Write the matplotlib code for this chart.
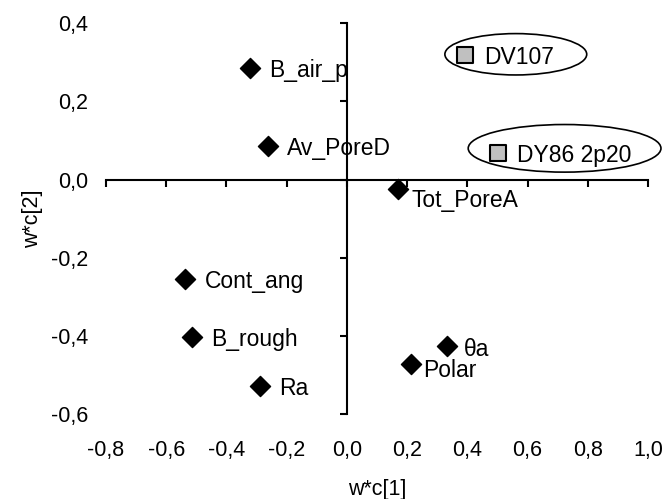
import matplotlib
matplotlib.use("Agg")
import matplotlib.pyplot as plt
from matplotlib.patches import Ellipse
from matplotlib.ticker import FuncFormatter, MultipleLocator

plt.rcParams['font.family'] = ['Liberation Sans', 'DejaVu Sans']

# variable loadings (diamonds)
var_names = ["B_air_p", "Av_PoreD", "Tot_PoreA", "Cont_ang", "B_rough", "Ra", "θa", "Polar"]
var_x = [-0.322, -0.263, 0.170, -0.536, -0.515, -0.289, 0.332, 0.212]
var_y = [0.285, 0.085, -0.024, -0.255, -0.404, -0.528, -0.426, -0.473]

# samples (grey squares)
obs_names = ["DV107", "DY86 2p20"]
obs_x = [0.392, 0.503]
obs_y = [0.319, 0.068]

# label offsets in points
var_offsets = [(14, 0), (14, 0), (9.5, -6.5), (14, 0), (14, 0), (14, 0), (12.5, -1), (9, -2.5)]
obs_offsets = [(13.5, 0), (13.5, 0)]

# ellipses round the samples: centre, width, height
ell_cx = [0.561, 0.723]
ell_cy = [0.321, 0.080]
ell_w = [0.471, 0.640]
ell_h = [0.106, 0.122]


def comma(v, pos):
    return f"{v:.1f}".replace(".", ",")


fig = plt.figure(figsize=(6.66, 4.99), dpi=100)
rect = [0.159, 0.171, 0.814, 0.782]

# frame axes: only carries the tick labels at the edges
ax = fig.add_axes(rect)
ax.set_xlim(-0.8, 1.0)
ax.set_ylim(-0.6, 0.4)
for s in ax.spines.values():
    s.set_visible(False)
ax.xaxis.set_major_locator(MultipleLocator(0.2))
ax.yaxis.set_major_locator(MultipleLocator(0.2))
ax.xaxis.set_major_formatter(FuncFormatter(comma))
ax.yaxis.set_major_formatter(FuncFormatter(comma))
ax.tick_params(length=0, labelsize=15.5)
ax.tick_params(axis="x", pad=19)
ax.tick_params(axis="y", pad=12.5)
ax.set_xlabel("w*c[1]", fontsize=15.5, labelpad=13)
ax.set_ylabel("w*c[2]", fontsize=15.5, labelpad=6)

# axes crossing at zero
ax2 = fig.add_axes(rect, sharex=ax, sharey=ax)
ax2.patch.set_visible(False)
ax2.spines["top"].set_visible(False)
ax2.spines["right"].set_visible(False)
ax2.spines["left"].set_position(("data", 0))
ax2.spines["bottom"].set_position(("data", 0))
ax2.spines["left"].set_linewidth(1.5)
ax2.spines["bottom"].set_linewidth(1.5)
ax2.tick_params(direction="out", length=5, width=1.5, labelleft=False, labelbottom=False)

ax2.scatter(var_x, var_y, marker="D", s=105, color="black", zorder=3)
ax2.scatter(obs_x, obs_y, marker="s", s=130, facecolor="#c0c0c0", edgecolor="black",
            linewidth=1.5, zorder=3)

for name, x, y, off in zip(var_names, var_x, var_y, var_offsets):
    ax2.annotate(name, (x, y), xytext=off, textcoords="offset points",
                 fontsize=16.5, va="center_baseline", ha="left")
for name, x, y, off in zip(obs_names, obs_x, obs_y, obs_offsets):
    ax2.annotate(name, (x, y), xytext=off, textcoords="offset points",
                 fontsize=16.5, va="center_baseline", ha="left")

for cx, cy, w, h in zip(ell_cx, ell_cy, ell_w, ell_h):
    ax2.add_patch(Ellipse((cx, cy), w, h, fill=False, edgecolor="black",
                          linewidth=1.2, clip_on=False))

fig.savefig("out.png", dpi=100)
